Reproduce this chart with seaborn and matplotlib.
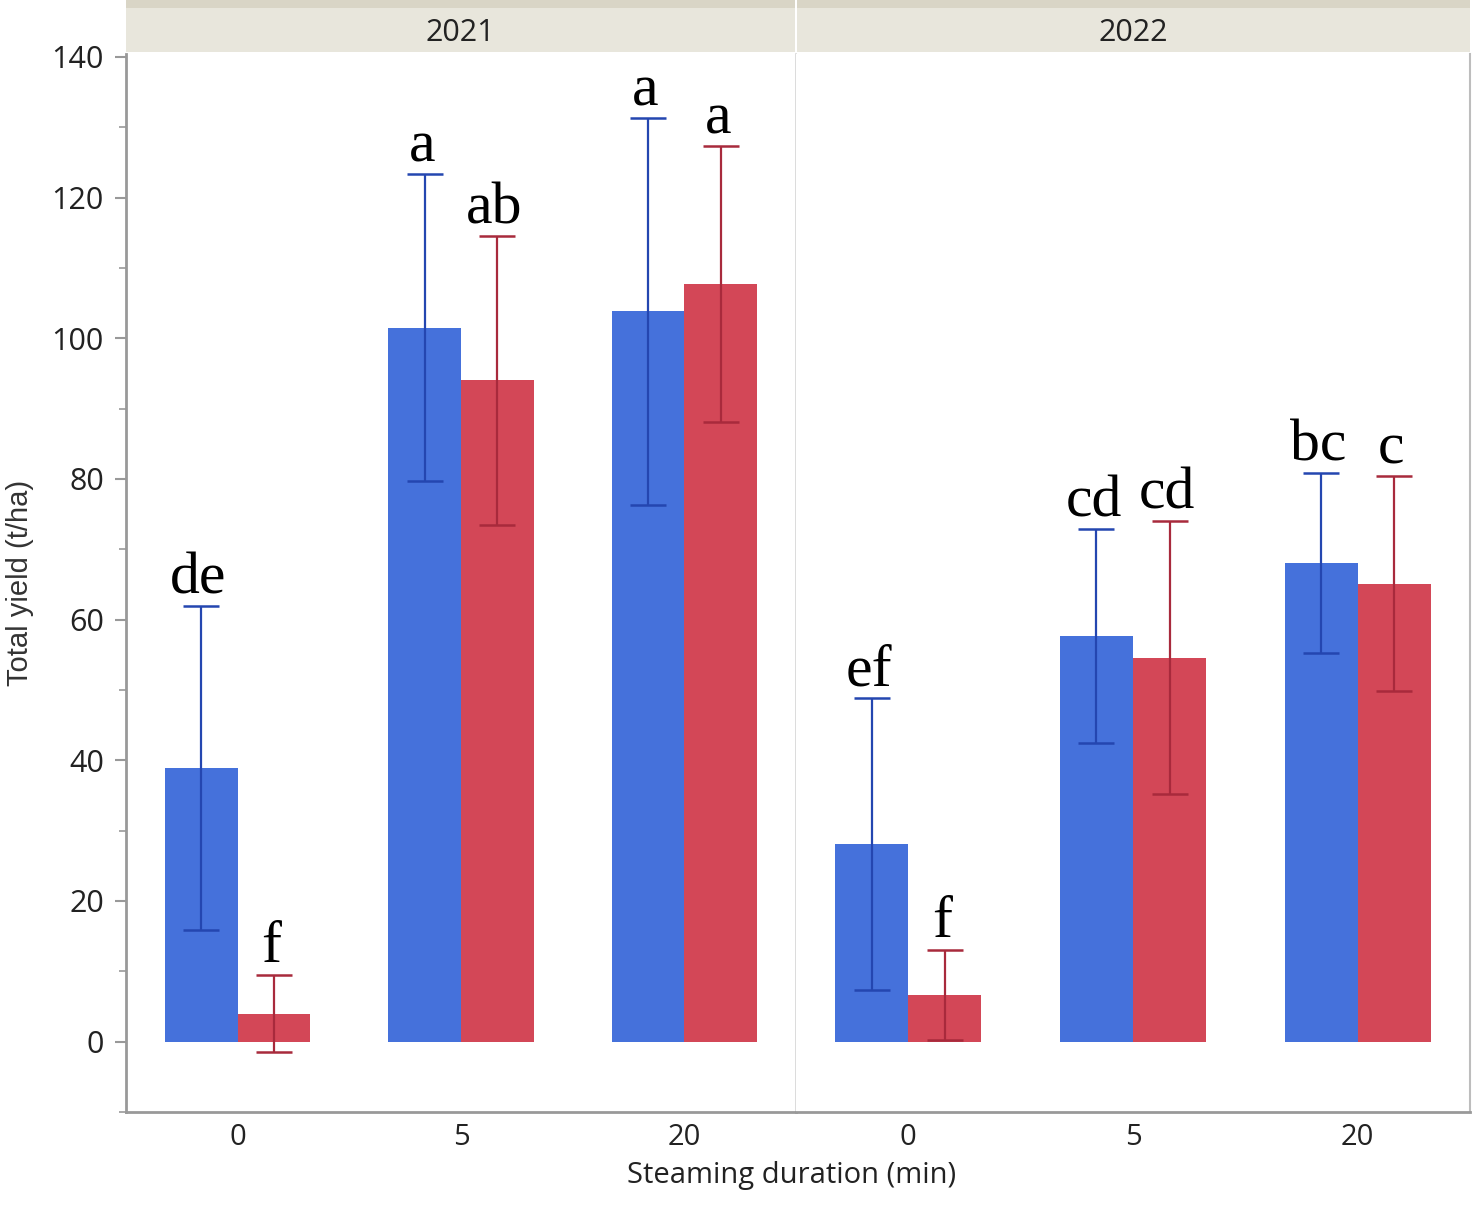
import pandas as pd
import matplotlib.pyplot as plt
import seaborn as sns
from matplotlib.ticker import MultipleLocator

years = ["2021", "2022"]
durations = ["0", "5", "20"]
treatments = ["T1", "T2"]

# mean total yield (t/ha) and error, rows = treatment, cols = duration
means_2021 = [[38.9, 101.5, 103.8], [4.0, 94.0, 107.7]]
errs_2021 = [[23.0, 21.8, 27.5], [5.5, 20.5, 19.6]]
letters_2021 = [["de", "a", "a"], ["f", "ab", "a"]]

means_2022 = [[28.1, 57.7, 68.1], [6.7, 54.6, 65.1]]
errs_2022 = [[20.7, 15.2, 12.8], [6.4, 19.4, 15.3]]
letters_2022 = [["ef", "cd", "bc"], ["f", "cd", "c"]]

bar_colors = ["#4571DB", "#D34757"]
err_colors = ["#2446B0", "#A82A3C"]

rows = []
for year, means, errs, letters in [("2021", means_2021, errs_2021, letters_2021),
                                   ("2022", means_2022, errs_2022, letters_2022)]:
    for i, t in enumerate(treatments):
        for j, d in enumerate(durations):
            rows.append({"year": year, "duration": d, "treatment": t,
                         "mean": means[i][j], "err": errs[i][j], "letter": letters[i][j]})
df = pd.DataFrame(rows)

sns.set_theme(style="white")
plt.rcParams["font.family"] = ["Open Sans", "DejaVu Sans"]

fig = plt.figure(figsize=(14.76, 12.10), dpi=100)

W, H = 1476, 1210
left, mid, right = 126, 796, 1470
top, bottom = 54, 1112

def fig_box(x0, x1, y0, y1):
    return [x0 / W, 1 - y1 / H, (x1 - x0) / W, (y1 - y0) / H]

ax1 = fig.add_axes(fig_box(left, mid, top, bottom))
ax2 = fig.add_axes(fig_box(mid, right, top, bottom), sharey=ax1)
axes = [ax1, ax2]

for ax, year in zip(axes, years):
    sub = df[df["year"] == year]
    sns.barplot(data=sub, x="duration", y="mean", hue="treatment",
                order=durations, hue_order=treatments, palette=bar_colors,
                width=0.65, saturation=1, errorbar=None, legend=False,
                linewidth=0, ax=ax)
    for i, t in enumerate(treatments):
        for j, bar in enumerate(ax.containers[i]):
            row = sub[(sub["treatment"] == t) & (sub["duration"] == durations[j])].iloc[0]
            x = bar.get_x() + bar.get_width() / 2
            ax.errorbar(x, row["mean"], yerr=row["err"], color=err_colors[i],
                        capsize=13, elinewidth=1.6, capthick=1.8, fmt="none")
            ax.annotate(row["letter"], (x, row["mean"] + row["err"]),
                        xytext=(-2, 9), textcoords="offset points",
                        ha="center", va="baseline", fontsize=43,
                        family="Liberation Serif", color="black")
    ax.set_xlabel("")
    ax.set_ylabel("")
    ax.set_xlim(-0.5, 2.5)
    ax.tick_params(axis="x", length=0, labelsize=21, pad=8, labelcolor="#222222")
    for s in ax.spines.values():
        s.set_visible(False)
    ax.spines["bottom"].set_visible(True)
    ax.spines["bottom"].set_color("#999999")
    ax.spines["bottom"].set_linewidth(2)

ax1.set_ylim(-10, 140.4)
ax1.yaxis.set_major_locator(MultipleLocator(20))
ax1.yaxis.set_minor_locator(MultipleLocator(10))
ax1.tick_params(axis="y", which="major", left=True, length=8, width=1.5,
                color="#999999", labelsize=22, labelcolor="#222222", pad=8)
ax1.tick_params(axis="y", which="minor", left=True, length=5, width=1.2, color="#999999")
ax1.spines["left"].set_visible(True)
ax1.spines["left"].set_color("#999999")
ax1.spines["left"].set_linewidth(2)
ax1.spines["right"].set_visible(True)
ax1.spines["right"].set_color("#d6d6d6")
ax1.spines["right"].set_linewidth(1.2)
ax2.tick_params(axis="y", which="both", left=False, labelleft=False)
ax2.spines["right"].set_visible(True)
ax2.spines["right"].set_color("#bdbdbd")
ax2.spines["right"].set_linewidth(1.5)

# facet headers
for (x0, x1), year in zip([(left, mid - 1), (mid + 1, right)], years):
    hax = fig.add_axes(fig_box(x0, x1, 0, 52))
    hax.set_facecolor("#E8E6DC")
    hax.add_patch(plt.Rectangle((0, 0.85), 1, 0.15, transform=hax.transAxes,
                                color="#D9D5C6", lw=0))
    hax.set_xticks([])
    hax.set_yticks([])
    for s in hax.spines.values():
        s.set_visible(False)
    hax.text(0.5, 0.36, year, ha="center", va="center", fontsize=22, color="#222222",
             transform=hax.transAxes)

fig.text(792 / W, 1 - 1176 / H, "Steaming duration (min)", ha="center", va="center",
         fontsize=21, color="#222222")
fig.text(20 / W, 1 - 583 / H, "Total yield (t/ha)", ha="center", va="center",
         rotation=90, fontsize=21, color="#333333", family="Liberation Sans")

fig.savefig("out.png", dpi=100)
